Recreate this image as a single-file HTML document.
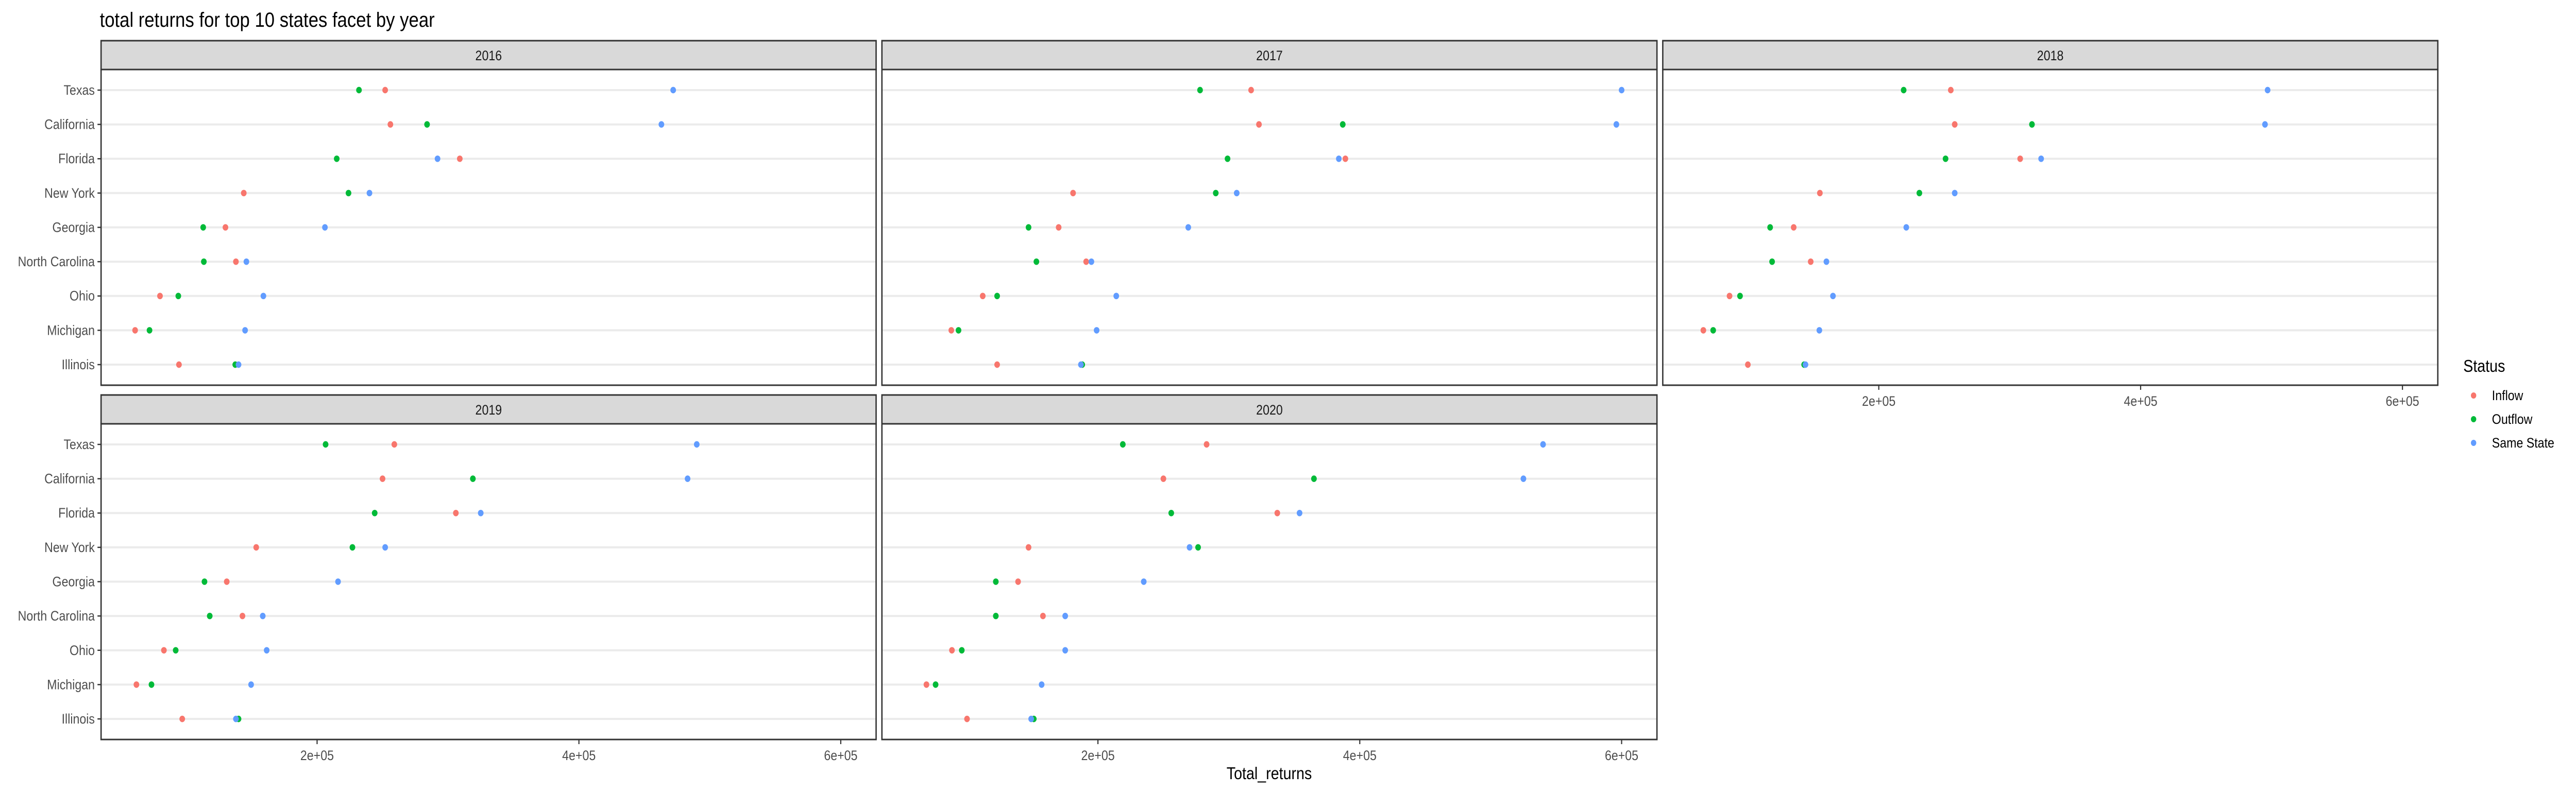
<!DOCTYPE html>
<html><head><meta charset="utf-8"><style>
html,body{margin:0;padding:0;background:#fff;width:100%;height:100%;overflow:hidden}
svg{display:block;width:100vw;height:100vh}
svg text{font-family:"Liberation Sans",sans-serif}
</style></head><body>
<svg id="chart" viewBox="0 0 5760 1536" preserveAspectRatio="none" xmlns="http://www.w3.org/2000/svg">
<rect width="5760" height="1536" fill="#fff"/>
<text x="223" y="52" font-size="40" fill="#000">total returns for top 10 states facet by year</text>
<g id="panels"></g>
<text x="2838" y="1513" font-size="33" text-anchor="middle" fill="#000">Total_returns</text>
<g>
<text x="5508" y="722" font-size="33" fill="#000">Status</text>
<circle cx="5531" cy="768" r="6" fill="#F8766D"/>
<text x="5572" y="777" font-size="26.7" fill="#000">Inflow</text>
<circle cx="5531" cy="814" r="6" fill="#00BA38"/>
<text x="5572" y="823" font-size="26.7" fill="#000">Outflow</text>
<circle cx="5531" cy="860" r="6" fill="#619CFF"/>
<text x="5572" y="869" font-size="26.7" fill="#000">Same State</text>
</g>
</svg>
<script>
const years = ["2016","2017","2018","2019","2020"];
const states = ["Texas","California","Florida","New York","Georgia","North Carolina","Ohio","Michigan","Illinois"];
const xTicks = [200000,400000,600000];
const xTickLabels = ["2e+05","4e+05","6e+05"];
// values in thousands, per year, per state order above
const inflow2016 = [252,256,309,144,130,138,80,61,94.5];
const outflow2016 = [232,284,215,224,113,113.5,94,72,137.5];
const same2016 = [472,463,292,240,206,146,159,145,140];
const inflow2017 = [317,323,389,181,170,191,112,88,123];
const outflow2017 = [278,387,299,290,147,153,123,93.5,188];
const same2017 = [600,596,384,306,269,195,214,199,187];
const inflow2018 = [255,258,308,155,135,148,86,66,100];
const outflow2018 = [219,317,251,231,117,118.5,94,73.5,143];
const same2018 = [497,495,324,258,221,160,165,154.6,144];
const inflow2019 = [259,250,306,153.5,131,143,83,62,97];
const outflow2019 = [206.5,319,244,227,114,118,92,73.5,140];
const same2019 = [490,483,325,252,216,158.5,161.5,149.6,138];
const inflow2020 = [283,250,337,147,139,158,88.5,69,100];
const outflow2020 = [219,365,256,276.5,122,122,96,76,151];
const same2020 = [540,525,354,270,235,175,175,157,149];
const inflowByYear = [inflow2016,inflow2017,inflow2018,inflow2019,inflow2020];
const outflowByYear = [outflow2016,outflow2017,outflow2018,outflow2019,outflow2020];
const sameByYear = [same2016,same2017,same2018,same2019,same2020];
const seriesNames = ["inflow","outflow","same-state"];
const seriesColors = ["#F8766D","#00BA38","#619CFF"];

const NS="http://www.w3.org/2000/svg";
const root=document.getElementById("panels");
function mk(tag,attrs,parent){const e=document.createElementNS(NS,tag);for(const k in attrs)e.setAttribute(k,attrs[k]);(parent||root).appendChild(e);return e;}
const PW=1733, PH=613, STRIP=56;
const lefts=[226,1972,3718];
const tops=[79,767];
const xMin=35000, xMax=627000;
function xScale(v,left){return left+(v-xMin)/(xMax-xMin)*PW;}
function yScale(i,top){return top+(0.6+i)*PH/9.2;}

years.forEach((yr,p)=>{
  const col=p%3,row=Math.floor(p/3);
  const L=lefts[col],T=tops[row]+STRIP;
  const g=mk("g",{});
  
  
  const s=mk("rect",{x:L,y:tops[row],width:PW,height:STRIP,fill:"#D9D9D9",stroke:"#333",'stroke-width':3},g);
  
  
  const st=mk("text",{x:L+PW/2,y:tops[row]+38,'font-size':26.7,'text-anchor':'middle',fill:"#1A1A1A"},g);
  st.textContent=yr;
  
  
  mk("rect",{x:L,y:T,width:PW,height:PH,fill:"#fff"},g);
  states.forEach((sn,i)=>{
    const y=yScale(i,T);
    const gl=mk("line",{x1:L,x2:L+PW,y1:y,y2:y,stroke:"#EBEBEB",'stroke-width':4},g);
    
    
    if(col===0){
      mk("line",{x1:L-8,x2:L,y1:y,y2:y,stroke:"#333",'stroke-width':2.5},g);
      const t=mk("text",{x:L-14,y:y+9,'font-size':26.7,'text-anchor':'end',fill:"#4D4D4D"},g);
      t.textContent=sn;
      
      
    }
  });
  const data=[inflowByYear[p],outflowByYear[p],sameByYear[p]];
  data.forEach((arr,si)=>{
    arr.forEach((v,i)=>{
      const c=mk("circle",{cx:xScale(v*1000,L),cy:yScale(i,T),r:6.3,fill:seriesColors[si]},g);
      
      
    });
  });
  const b=mk("rect",{x:L,y:T,width:PW,height:PH,fill:"none",stroke:"#333",'stroke-width':3},g);
  
  
  if(p>=2){
    xTicks.forEach((tv,k)=>{
      const x=xScale(tv,L);
      mk("line",{x1:x,x2:x,y1:T+PH,y2:T+PH+9,stroke:"#333",'stroke-width':2.5},g);
      const t=mk("text",{x:x,y:T+PH+40,'font-size':26.7,'text-anchor':'middle',fill:"#4D4D4D"},g);
      t.textContent=xTickLabels[k];
      
      
    });
  }
});
</script>
</body></html>
